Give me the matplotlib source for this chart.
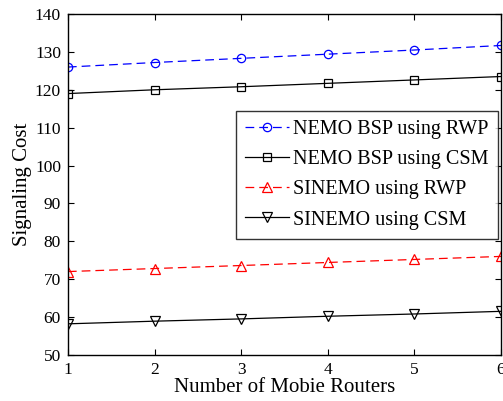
import numpy as np
import matplotlib
matplotlib.use("Agg")
from matplotlib import pyplot as plt

plt.rcParams['font.family'] = ['Liberation Serif', 'DejaVu Serif']

routers = [1, 2, 3, 4, 5, 6]
nemo_rwp = [126.0, 127.2, 128.3, 129.4, 130.5, 131.7]
nemo_csm = [119.0, 120.0, 120.8, 121.7, 122.6, 123.5]
sinemo_rwp = [72.0, 72.8, 73.6, 74.4, 75.2, 76.0]
sinemo_csm = [58.2, 58.9, 59.5, 60.2, 60.8, 61.5]

fig = plt.figure(figsize=(5.03, 4.01), dpi=100)
ax = fig.add_axes([0.135, 0.115, 0.861, 0.85])

ax.plot(routers, nemo_rwp, color='b', ls=(0, (7, 4)), lw=0.9, marker='o', ms=6,
        mfc='none', mew=0.9, label='NEMO BSP using RWP')
ax.plot(routers, nemo_csm, color='k', ls='-', lw=0.9, marker='s', ms=5.5,
        mfc='none', mew=0.9, label='NEMO BSP using CSM')
ax.plot(routers, sinemo_rwp, color='r', ls=(0, (7, 4)), lw=0.9, marker='^', ms=6.5,
        mfc='none', mew=0.9, label='SINEMO using RWP')
ax.plot(routers, sinemo_csm, color='k', ls='-', lw=0.9, marker='v', ms=6.5,
        mfc='none', mew=0.9, label='SINEMO using CSM')

ax.set_xlim(1, 6)
ax.set_ylim(50, 140)
ax.set_xticks(routers)
ax.set_yticks(np.arange(50, 141, 10))
ax.tick_params(direction='in', top=True, right=True, labelsize=12.5, length=4, pad=5)
for s in ax.spines.values():
    s.set_linewidth(1.0)

ax.set_xlabel('Number of Mobie Routers', fontsize=15, labelpad=0)
ax.set_ylabel('Signaling Cost', fontsize=15, labelpad=2)

leg = ax.legend(loc='upper right', bbox_to_anchor=(0.993, 0.716), fontsize=14.5,
                frameon=True, fancybox=False, edgecolor='k', handlelength=2.2,
                borderpad=0.45, labelspacing=0.55, handletextpad=0.2,
                borderaxespad=0.0)
leg.get_frame().set_linewidth(1.0)

plt.savefig('out.png', dpi=100)
